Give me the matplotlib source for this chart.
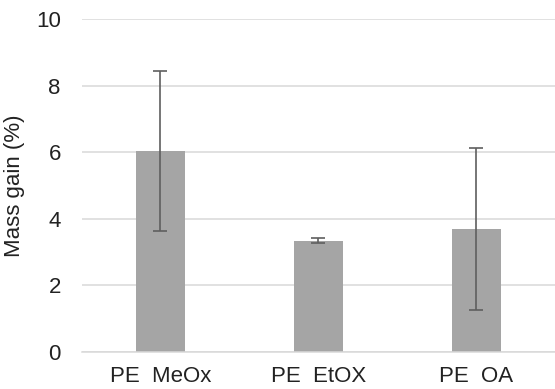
import matplotlib.pyplot as plt
import numpy as np

# data
samples = ['PE  MeOx', 'PE  EtOX', 'PE  OA']
mass_gain = [6.04, 3.34, 3.70]
mass_gain_err = [2.39, 0.07, 2.44]

plt.rcParams['font.family'] = ['Liberation Sans', 'DejaVu Sans']

fig = plt.figure(figsize=(5.55, 3.89), dpi=100)
ax = fig.add_axes([0.147, 0.095, 0.853, 0.856])

x = np.arange(len(samples))
ax.bar(x, mass_gain, width=0.31, color='#a5a5a5', zorder=2)
ax.errorbar(x, mass_gain, yerr=mass_gain_err, fmt='none', ecolor='#5f5f5f',
            elinewidth=1.2, capsize=5.2, capthick=1.2, zorder=3)

ax.set_xlim(-0.5, len(samples) - 0.5)
ax.set_ylim(0, 10)
ax.set_yticks(np.arange(0, 11, 2))
ax.set_xticks(x)
ax.set_xticklabels(samples)
ax.yaxis.grid(True, color='#d9d9d9', linewidth=1.1, zorder=0)
ax.set_axisbelow(True)
for s in ['top', 'right', 'left']:
    ax.spines[s].set_visible(False)
ax.spines['bottom'].set_color('#d9d9d9')
ax.spines['bottom'].set_linewidth(1.1)
ax.tick_params(axis='y', length=0, pad=15, labelsize=16, labelcolor='#222222')
ax.tick_params(axis='x', length=0, pad=10, labelsize=16, labelcolor='#222222')
ax.set_ylabel('Mass gain (%)', fontsize=16, color='#222222')
ax.yaxis.set_label_coords(-0.12, 0.5)

fig.savefig('out.png', dpi=100)
